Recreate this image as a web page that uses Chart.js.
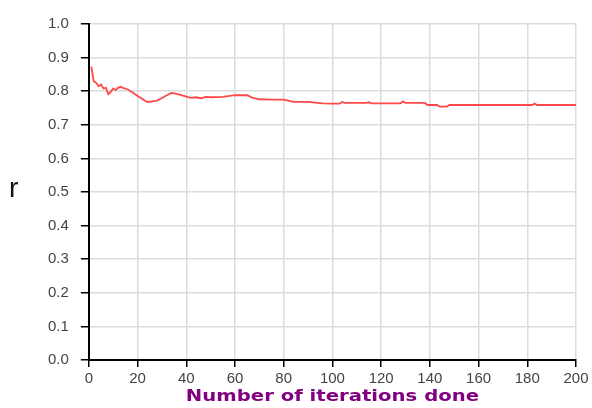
<!DOCTYPE html>
<html>
<head>
<meta charset="utf-8">
<script src="https://cdn.jsdelivr.net/npm/chart.js@4.4.0/dist/chart.umd.min.js"></script>
<style>
  html, body { margin: 0; padding: 0; background: #fff; }
  #wrap { position: relative; width: 592px; height: 408px; }
  #rlabel { position: absolute; left: 9px; top: 172px; font: 28px "Liberation Sans", Arial, sans-serif; color: #111; }
</style>
</head>
<body>
<div id="wrap">
  <canvas id="myChart" width="592" height="408"></canvas>
  <div id="rlabel">r</div>
</div>
<script>
// iteration number and r value
const iterations = [1, 2, 3, 4, 5, 6, 7, 8, 9, 10, 11, 12, 13, 14, 15, 16, 18, 20, 22, 24, 26, 28, 30, 32, 34, 36, 38, 40, 42, 44, 46, 48, 50, 55, 60, 65, 67, 70, 75, 80, 84, 90, 96, 100, 103, 104, 105, 110, 114, 115, 116, 120, 128, 129, 130, 135, 138, 139, 143, 144, 147, 148, 160, 170, 182, 183, 184, 190, 200];
const rValues   = [0.873, 0.83, 0.825, 0.815, 0.82, 0.808, 0.81, 0.791, 0.798, 0.808, 0.803, 0.81, 0.813, 0.81, 0.808, 0.805, 0.796, 0.786, 0.777, 0.768, 0.77, 0.772, 0.78, 0.788, 0.795, 0.792, 0.788, 0.784, 0.78, 0.782, 0.779, 0.783, 0.782, 0.783, 0.788, 0.788, 0.781, 0.776, 0.775, 0.775, 0.768, 0.768, 0.764, 0.763, 0.763, 0.768, 0.765, 0.765, 0.765, 0.767, 0.764, 0.764, 0.764, 0.77, 0.765, 0.765, 0.765, 0.759, 0.759, 0.754, 0.754, 0.759, 0.759, 0.759, 0.759, 0.763, 0.759, 0.759, 0.759];
const xTicks = [0, 20, 40, 60, 80, 100, 120, 140, 160, 180, 200];
const yTicks = [0.0, 0.1, 0.2, 0.3, 0.4, 0.5, 0.6, 0.7, 0.8, 0.9, 1.0];
const xTitle = 'Number of iterations done';

const points = iterations.map((it, i) => ({x: it, y: rValues[i]}));

const tickFont = { family: "'Liberation Sans', Arial, sans-serif", size: 15 };

// x title drawn stretched like the original
const xTitlePlugin = {
  id: 'xTitle',
  afterDraw(chart) {
    const c = chart.ctx;
    const a = chart.chartArea;
    c.save();
    c.font = "bold 15px 'DejaVu Sans', Verdana, sans-serif";
    c.fillStyle = '#800080';
    c.textAlign = 'center';
    c.textBaseline = 'middle';
    c.translate((a.left + a.right) / 2, 397);
    c.scale(1.31, 1);
    c.fillText(xTitle, 0, 0);
    c.restore();
  }
};

const ctx = document.getElementById('myChart').getContext('2d');
const myChart = new Chart(ctx, {
  type: 'line',
  data: {
    datasets: [{
      data: points,
      borderColor: '#ff4848',
      borderWidth: 1.8,
      pointRadius: 0,
      tension: 0,
      fill: false
    }]
  },
  options: {
    responsive: false,
    animation: false,
    layout: { padding: { left: 36, right: 16, top: 24, bottom: 17 } },
    plugins: { legend: { display: false }, tooltip: { enabled: false } },
    scales: {
      x: {
        type: 'linear',
        min: 0, max: 200,
        afterBuildTicks: (axis) => { axis.ticks = xTicks.map(v => ({value: v})); },
        ticks: { color: '#444', font: tickFont, padding: 3, maxRotation: 0 },
        grid: { color: '#dcdcdc', lineWidth: 1.5, tickColor: '#000', tickLength: 7 },
        border: { color: '#000', width: 2 }
      },
      y: {
        min: 0, max: 1,
        afterBuildTicks: (axis) => { axis.ticks = yTicks.map(v => ({value: v})); },
        ticks: { color: '#444', font: tickFont, padding: 12, callback: (v) => Number(v).toFixed(1) },
        grid: { color: '#dcdcdc', lineWidth: 1.5, tickColor: '#000', tickLength: 8 },
        border: { color: '#000', width: 2 }
      }
    }
  },
  plugins: [xTitlePlugin]
});
</script>
</body>
</html>
